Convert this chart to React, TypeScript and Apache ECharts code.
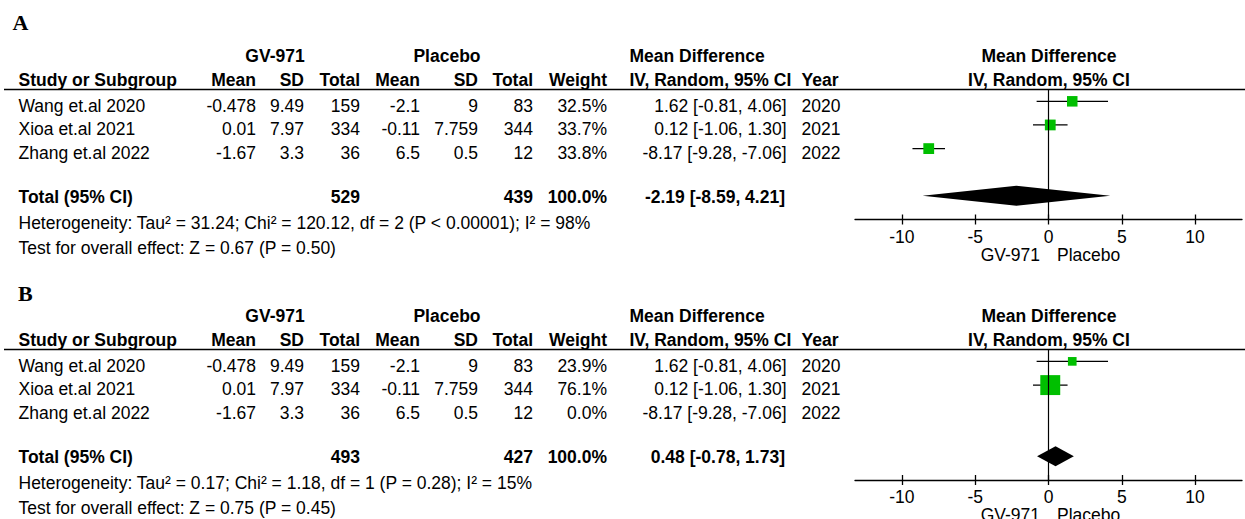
import React, { useEffect, useRef } from 'react';
import * as echarts from 'echarts';

// ---- study data ----
const studies = ['Wang et.al 2020', 'Xioa et.al 2021', 'Zhang et.al 2022'];
const gvMean = ['-0.478', '0.01', '-1.67'];
const gvSD = ['9.49', '7.97', '3.3'];
const gvTotal = [159, 334, 36];
const pbMean = ['-2.1', '-0.11', '6.5'];
const pbSD = ['9', '7.759', '0.5'];
const pbTotal = [83, 344, 12];
const mdEst = [1.62, 0.12, -8.17];
const mdLow = [-0.81, -1.06, -9.28];
const mdHigh = [4.06, 1.3, -7.06];
const years = [2020, 2021, 2022];

// ---- analysis A ----
const weightsA = [32.5, 33.7, 33.8];
const totalsA = [529, 439];
const pooledA = [-2.19, -8.59, 4.21];
const hetA = 'Heterogeneity: Tau² = 31.24; Chi² = 120.12, df = 2 (P < 0.00001); I² = 98%';
const overallA = 'Test for overall effect: Z = 0.67 (P = 0.50)';

// ---- analysis B ----
const weightsB = [23.9, 76.1, 0.0];
const totalsB = [493, 427];
const pooledB = [0.48, -0.78, 1.73];
const hetB = 'Heterogeneity: Tau² = 0.17; Chi² = 1.18, df = 1 (P = 0.28); I² = 15%';
const overallB = 'Test for overall effect: Z = 0.75 (P = 0.45)';

// ---- forest axis ----
const axisTicks = [-10, -5, 0, 5, 10];
const axisMin = -13.2;
const axisMax = 13.2;
const favoursLeft = 'GV-971';
const favoursRight = 'Placebo';

const FONT = '"Liberation Sans", Arial, sans-serif';
const SERIF = '"Liberation Serif", "Times New Roman", serif';
const GREEN = '#00BF00';
const FS = 17.5;

// column anchors (x in px)
const COL = {
  name: 18.5,
  gvMean: 256,
  gvSD: 304,
  gvTotal: 360,
  pbMean: 420,
  pbSD: 478,
  pbTotal: 533,
  weight: 607,
  md: 786.5,
  mdHead: 629.5,
  year: 801.5,
  gvGroup: 275,
  pbGroup: 447,
  forest: 1049,
};

const fmt2 = (v: number) => v.toFixed(2);
const ciText = (e: number, l: number, h: number) => `${fmt2(e)} [${fmt2(l)}, ${fmt2(h)}]`;
const boxSide = (w: number) => 3.5 + 0.216 * w;

function txt(text: string, x: number, y: number, align: string, bold = false, size = FS, family = FONT) {
  return {
    type: 'text',
    silent: true,
    style: {
      text,
      x,
      y,
      textAlign: align,
      textVerticalAlign: 'middle',
      align,
      verticalAlign: 'middle',
      fontSize: size,
      fontWeight: bold ? 'bold' : 'normal',
      fontFamily: family,
      fill: '#000',
    },
  };
}

function panelGraphics(
  oy: number,
  label: string,
  labelX: number,
  labelY: number,
  weights: number[],
  totals: number[],
  pooled: number[],
  het: string,
  overall: string
) {
  const els: any[] = [];
  els.push(txt(label, labelX, labelY, 'left', true, 22, SERIF));
  const h1 = 56 + oy;
  const h2 = 79.5 + oy;
  els.push(txt('GV-971', COL.gvGroup, h1, 'center', true));
  els.push(txt('Placebo', COL.pbGroup, h1, 'center', true));
  els.push(txt('Mean Difference', COL.mdHead, h1, 'left', true));
  els.push(txt('Mean Difference', COL.forest, h1, 'center', true));
  els.push(txt('Study or Subgroup', COL.name, h2, 'left', true));
  els.push(txt('Mean', COL.gvMean, h2, 'right', true));
  els.push(txt('SD', COL.gvSD, h2, 'right', true));
  els.push(txt('Total', COL.gvTotal, h2, 'right', true));
  els.push(txt('Mean', COL.pbMean, h2, 'right', true));
  els.push(txt('SD', COL.pbSD, h2, 'right', true));
  els.push(txt('Total', COL.pbTotal, h2, 'right', true));
  els.push(txt('Weight', COL.weight, h2, 'right', true));
  els.push(txt('IV, Random, 95% CI', COL.mdHead, h2, 'left', true));
  els.push(txt('Year', COL.year, h2, 'left', true));
  els.push(txt('IV, Random, 95% CI', COL.forest, h2, 'center', true));

  // header rule
  els.push({
    type: 'line',
    silent: true,
    shape: { x1: 4, y1: 89.5 + oy, x2: 1245, y2: 89.5 + oy },
    style: { stroke: '#000', lineWidth: 1.3 },
  });

  studies.forEach((s, i) => {
    const y = 105.5 + 23.8 * i + oy;
    els.push(txt(s, COL.name, y, 'left'));
    els.push(txt(gvMean[i], COL.gvMean, y, 'right'));
    els.push(txt(gvSD[i], COL.gvSD, y, 'right'));
    els.push(txt(String(gvTotal[i]), COL.gvTotal, y, 'right'));
    els.push(txt(pbMean[i], COL.pbMean, y, 'right'));
    els.push(txt(pbSD[i], COL.pbSD, y, 'right'));
    els.push(txt(String(pbTotal[i]), COL.pbTotal, y, 'right'));
    els.push(txt(weights[i].toFixed(1) + '%', COL.weight, y, 'right'));
    els.push(txt(ciText(mdEst[i], mdLow[i], mdHigh[i]), COL.md, y, 'right'));
    els.push(txt(String(years[i]), COL.year, y, 'left'));
  });

  const ty = 197 + oy;
  const wSum = weights.reduce((a, b) => a + b, 0);
  els.push(txt('Total (95% CI)', COL.name, ty, 'left', true));
  els.push(txt(String(totals[0]), COL.gvTotal, ty, 'right', true));
  els.push(txt(String(totals[1]), COL.pbTotal, ty, 'right', true));
  els.push(txt(wSum.toFixed(1) + '%', COL.weight, ty, 'right', true));
  els.push(txt(ciText(pooled[0], pooled[1], pooled[2]), COL.md - 1.5, ty, 'right', true));
  els.push(txt(het, COL.name, 223 + oy, 'left'));
  els.push(txt(overall, COL.name, 248 + oy, 'left'));

  // favours labels under the forest axis
  els.push(txt(favoursLeft, 1040, 255 + oy, 'right'));
  els.push(txt(favoursRight, 1057, 255 + oy, 'left'));
  return els;
}

function studySeries(gridIdx: number, weights: number[]) {
  const data = studies
    .map((_, i) => [mdEst[i], i, mdLow[i], mdHigh[i], weights[i]])
    .filter((d) => d[4] > 0);
  return {
    type: 'custom',
    xAxisIndex: gridIdx * 2,
    yAxisIndex: gridIdx,
    z: 3,
    silent: true,
    encode: { x: [0, 2, 3], y: 1 },
    data,
    renderItem: (params: any, api: any) => {
      const row = api.value(1);
      const p = api.coord([api.value(0), row]);
      const l = api.coord([api.value(2), row]);
      const h = api.coord([api.value(3), row]);
      const s = boxSide(api.value(4));
      return {
        type: 'group',
        children: [
          {
            type: 'line',
            shape: { x1: l[0], y1: l[1], x2: h[0], y2: h[1] },
            style: { stroke: '#000', lineWidth: 1.2 },
          },
          {
            type: 'rect',
            shape: { x: p[0] - s / 2, y: p[1] - s / 2, width: s, height: s },
            style: { fill: GREEN },
          },
        ],
      };
    },
  };
}

function pooledSeries(gridIdx: number, pooled: number[]) {
  return {
    type: 'custom',
    xAxisIndex: gridIdx * 2,
    yAxisIndex: gridIdx,
    z: 2,
    silent: true,
    encode: { x: [0, 2, 3], y: 1 },
    data: [[pooled[0], 4, pooled[1], pooled[2]]],
    renderItem: (params: any, api: any) => {
      const row = api.value(1);
      const c = api.coord([api.value(0), row]);
      const l = api.coord([api.value(2), row]);
      const h = api.coord([api.value(3), row]);
      const hh = 10;
      return {
        type: 'polygon',
        shape: {
          points: [
            [l[0], c[1]],
            [c[0], c[1] - hh],
            [h[0], c[1]],
            [c[0], c[1] + hh],
          ],
        },
        style: { fill: '#000' },
      };
    },
    markLine: {
      silent: true,
      symbol: ['none', 'none'],
      label: { show: false },
      lineStyle: { color: '#000', width: 1.2, type: 'solid' },
      data: [{ xAxis: 0 }],
    },
  };
}

function xAxes(gridIndex: number) {
  const lineStyle = { color: '#000', width: 1.3 };
  return [
    {
      gridIndex,
      type: 'value',
      position: 'bottom',
      min: axisMin,
      max: axisMax,
      splitLine: { show: false },
      axisLine: { show: true, onZero: false, lineStyle },
      axisTick: { show: true, inside: false, length: 5, customValues: axisTicks, lineStyle },
      axisLabel: {
        show: true,
        customValues: axisTicks,
        margin: 8,
        fontSize: FS,
        fontFamily: FONT,
        color: '#000',
      },
    },
    {
      gridIndex,
      type: 'value',
      position: 'bottom',
      min: axisMin,
      max: axisMax,
      splitLine: { show: false },
      axisLine: { show: false, onZero: false },
      axisTick: { show: true, inside: true, length: 5, customValues: axisTicks, lineStyle },
      axisLabel: { show: false },
    },
  ];
}

export default function App() {
  const ref = useRef<HTMLDivElement>(null);
  useEffect(() => {
    if (!ref.current) return;
    const chart = echarts.init(ref.current, null, { renderer: 'svg' });
    chart.setOption({
      animation: false,
      backgroundColor: '#fff',
      grid: [
        { left: 855, top: 89.5, width: 387, height: 130 },
        { left: 855, top: 349.5, width: 387, height: 130.5 },
      ],
      xAxis: [...xAxes(0), ...xAxes(1)],
      yAxis: [
        { gridIndex: 0, type: 'value', min: -0.5, max: 5, inverse: true, show: false },
        { gridIndex: 1, type: 'value', min: -0.5, max: 5, inverse: true, show: false },
      ],
      series: [
        pooledSeries(0, pooledA),
        studySeries(0, weightsA),
        pooledSeries(1, pooledB),
        studySeries(1, weightsB),
      ],
      graphic: [
        ...panelGraphics(0, 'A', 12.5, 22.5, weightsA, totalsA, pooledA, hetA, overallA),
        ...panelGraphics(260, 'B', 18, 293, weightsB, totalsB, pooledB, hetB, overallB),
      ],
    });
    return () => chart.dispose();
  }, []);
  return (
    <div
      ref={ref}
      style={{ position: 'absolute', left: 0, top: 0, width: 1245, height: 519, background: '#fff' }}
    />
  );
}
